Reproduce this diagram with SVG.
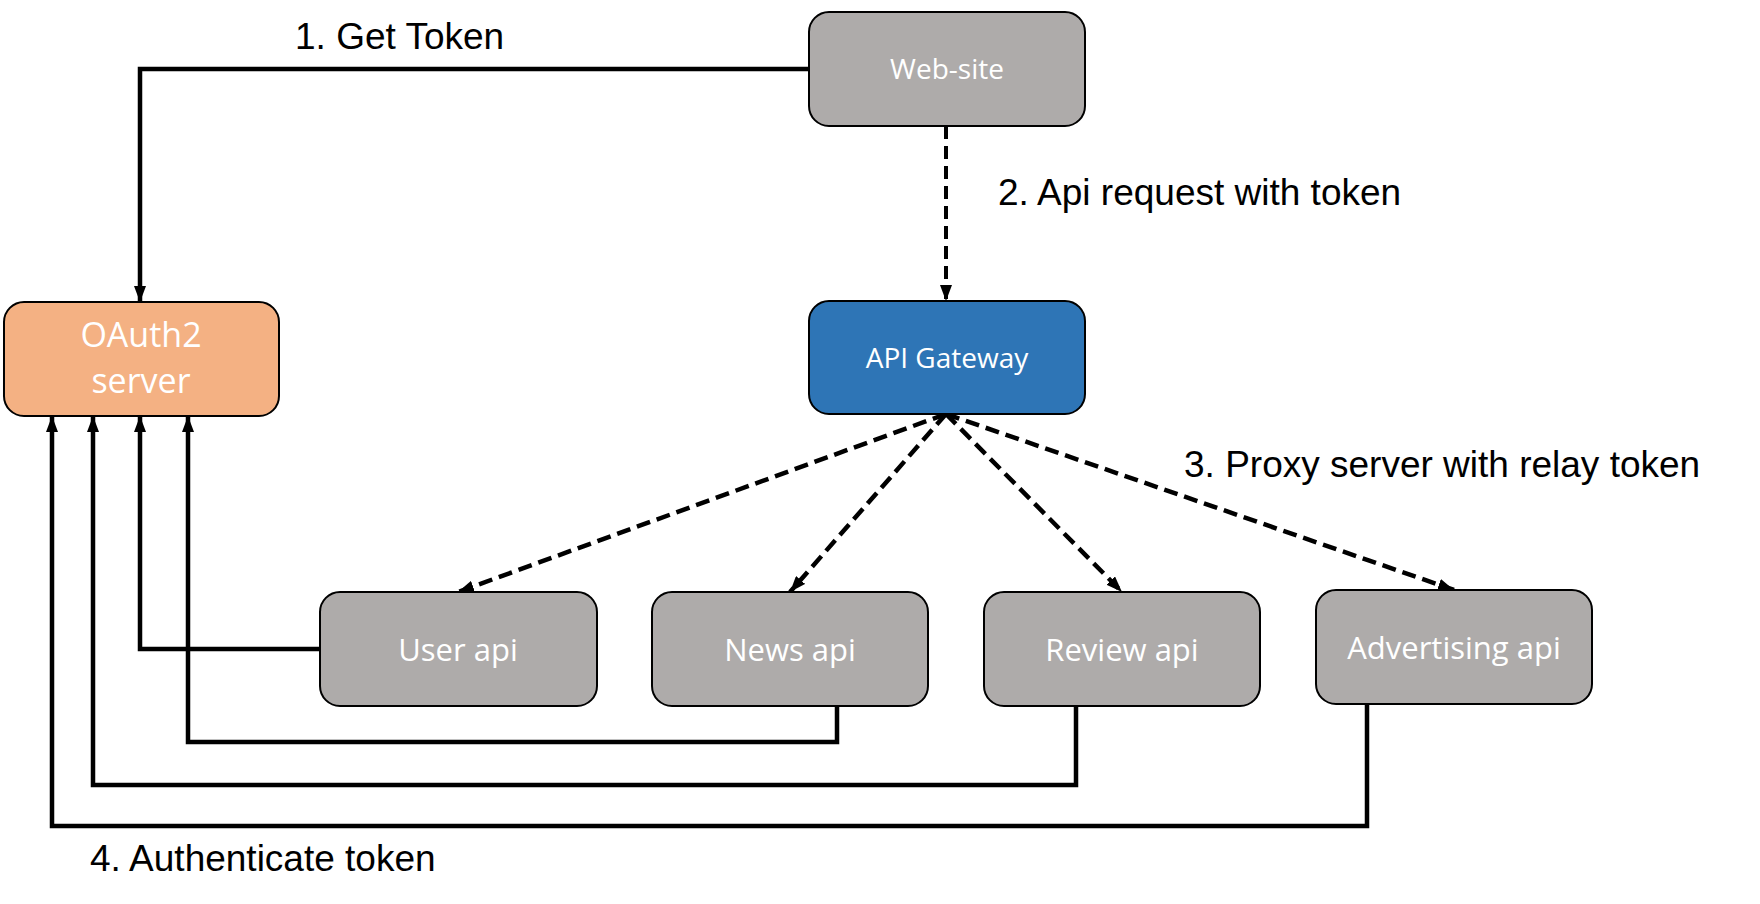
<svg xmlns="http://www.w3.org/2000/svg" width="1760" height="904" viewBox="0 0 1760 904">
<style>
.box{stroke:#000;stroke-width:2}
.gray{fill:#AEABAA}
.ntext{font-family:"Open Sans","Noto Sans",sans-serif;fill:#fff;text-anchor:middle}
.lbl{font-family:"Liberation Sans",Arial,sans-serif;font-size:37px;fill:#000}
.solid{fill:none;stroke:#000;stroke-width:4.5}
.dash1{fill:none;stroke:#000;stroke-width:4;stroke-dasharray:13 7}
.dash2{fill:none;stroke:#000;stroke-width:4.5;stroke-dasharray:14 7}
</style>
<defs>
<marker id="arr" markerUnits="userSpaceOnUse" markerWidth="16" markerHeight="12" viewBox="0 0 16 12" refX="16" refY="6" orient="auto">
<path d="M0,0 L16,6 L0,12 z" fill="#000"/>
</marker>
</defs>
<rect width="1760" height="904" fill="#fff"/>
<g id="connectors">
<path class="solid" d="M809,69 H140 V302" marker-end="url(#arr)"/>
<path class="dash1" d="M946,126 V301" marker-end="url(#arr)"/>
<path class="dash2" d="M946,414 L458,592" marker-end="url(#arr)"/>
<path class="dash2" d="M946,414 L790,592" marker-end="url(#arr)"/>
<path class="dash2" d="M946,414 L1122,592" marker-end="url(#arr)"/>
<path class="dash2" d="M946,414 L1454,590" marker-end="url(#arr)"/>
<path class="solid" d="M320,649 H140 V416" marker-end="url(#arr)"/>
<path class="solid" d="M837,706 V742 H188 V416" marker-end="url(#arr)"/>
<path class="solid" d="M1076,706 V785 H93 V416" marker-end="url(#arr)"/>
<path class="solid" d="M1367,704 V826 H52 V416" marker-end="url(#arr)"/>
</g>
<g id="labels">
<text class="lbl" x="295" y="49">1. Get Token</text>
<text class="lbl" x="998" y="205">2. Api request with token</text>
<text class="lbl" x="1184" y="477">3. Proxy server with relay token</text>
<text class="lbl" x="90" y="871">4. Authenticate token</text>
</g>
<g id="website">
<rect class="box gray" x="809" y="12" width="276" height="114" rx="20"/>
<text class="ntext" x="947" y="79" font-size="28">Web-site</text>
</g>
<g id="oauth2">
<rect class="box" fill="#F4B183" x="4" y="302" width="275" height="114" rx="20"/>
<text class="ntext" font-size="34"><tspan x="141" y="347">OAuth2</tspan><tspan x="141" y="393">server</tspan></text>
</g>
<g id="gateway">
<rect class="box" fill="#2E75B6" x="809" y="301" width="276" height="113" rx="20"/>
<text class="ntext" x="947" y="368" font-size="28">API Gateway</text>
</g>
<g id="userapi">
<rect class="box gray" x="320" y="592" width="277" height="114" rx="20"/>
<text class="ntext" x="458" y="661" font-size="31">User api</text>
</g>
<g id="newsapi">
<rect class="box gray" x="652" y="592" width="276" height="114" rx="20"/>
<text class="ntext" x="790" y="661" font-size="31">News api</text>
</g>
<g id="reviewapi">
<rect class="box gray" x="984" y="592" width="276" height="114" rx="20"/>
<text class="ntext" x="1122" y="661" font-size="31">Review api</text>
</g>
<g id="advapi">
<rect class="box gray" x="1316" y="590" width="276" height="114" rx="20"/>
<text class="ntext" x="1454" y="659" font-size="31">Advertising api</text>
</g>
</svg>
